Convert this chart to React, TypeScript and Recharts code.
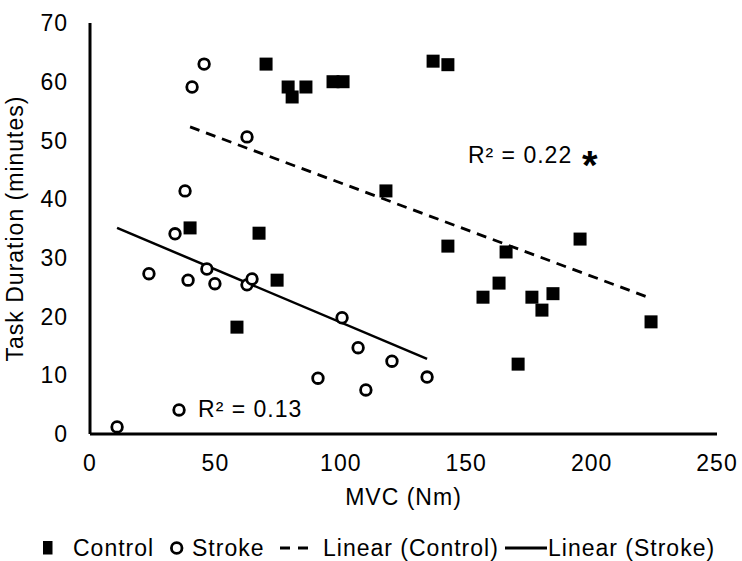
import { ScatterChart, Scatter, XAxis, YAxis, ReferenceDot } from "recharts";

// values
const controlMvc = [70.2, 79.0, 80.6, 86.1, 96.9, 100.9, 39.9, 67.4, 74.6, 58.6, 136.8, 142.7, 118.0, 142.7, 165.9, 195.4, 163.1, 156.7, 176.2, 184.6, 180.2, 170.7, 223.7];
const controlDuration = [63.0, 59.1, 57.4, 59.1, 60.0, 60.0, 35.1, 34.2, 26.2, 18.2, 63.5, 62.9, 41.4, 32.0, 31.0, 33.2, 25.7, 23.3, 23.3, 23.9, 21.1, 11.9, 19.1];

const strokeMvc = [45.5, 40.7, 62.6, 37.9, 33.9, 23.5, 39.1, 46.6, 49.8, 62.6, 64.6, 100.5, 106.9, 90.9, 110.0, 35.5, 10.8, 120.4, 134.4];
const strokeDuration = [63.0, 59.1, 50.6, 41.4, 34.1, 27.3, 26.2, 28.1, 25.6, 25.4, 26.4, 19.8, 14.7, 9.5, 7.5, 4.1, 1.2, 12.4, 9.7];

// trend line end points
const controlFitMvc = [39.9, 223.7];
const controlFitDuration = [52.3, 23.1];
const strokeFitMvc = [10.8, 134.4];
const strokeFitDuration = [35.1, 12.8];

const xTicks = [0, 50, 100, 150, 200, 250];
const yTicks = [0, 10, 20, 30, 40, 50, 60, 70];

const controlR2 = { x: 150.7, y: 46.2, text: "R² = 0.22" };
const strokeR2 = { x: 43.1, y: 2.9, text: "R² = 0.13" };

const zip = (xs: number[], ys: number[]) => xs.map((x, i) => ({ x, y: ys[i] }));

const controlData = zip(controlMvc, controlDuration);
const strokeData = zip(strokeMvc, strokeDuration);
const controlFit = zip(controlFitMvc, controlFitDuration);
const strokeFit = zip(strokeFitMvc, strokeFitDuration);

const FONT = "'Liberation Sans', Arial, sans-serif";
const tickStyle = { fill: "#000", fontSize: 23, letterSpacing: 1 };

const Square = ({ cx, cy }: any) => (
  <rect x={cx - 6.5} y={cy - 6.5} width={13} height={13} fill="#000" />
);

const Ring = ({ cx, cy }: any) => (
  <circle cx={cx} cy={cy} r={5.3} fill="#fff" stroke="#000" strokeWidth={2.8} />
);

const NoDot = () => <g />;

const Legend = () => (
  <svg
    width={742}
    height={53}
    style={{ position: "absolute", left: 0, top: 508, overflow: "visible" }}
    fontFamily={FONT}
    fontSize={23}
    letterSpacing={1}
  >
    <rect x={43} y={33} width={9.5} height={13.5} fill="#000" />
    <text x={73} y={48}>Control</text>
    <circle cx={176.7} cy={40} r={5.3} fill="#fff" stroke="#000" strokeWidth={2.8} />
    <text x={192} y={48}>Stroke</text>
    <line x1={280} x2={290} y1={40} y2={40} stroke="#000" strokeWidth={3} />
    <line x1={298} x2={308} y1={40} y2={40} stroke="#000" strokeWidth={3} />
    <text x={323} y={48}>Linear (Control)</text>
    <line x1={505} x2={547} y1={40} y2={40} stroke="#000" strokeWidth={3} />
    <text x={548} y={48}>Linear (Stroke)</text>
  </svg>
);

export default function App() {
  return (
    <div
      style={{
        position: "absolute",
        left: 0,
        top: 0,
        width: 742,
        height: 561,
        background: "#fff",
        fontFamily: FONT,
      }}
    >
      <ScatterChart
        width={742}
        height={561}
        margin={{ top: 23, right: 25, bottom: 0, left: 0 }}
      >
        <XAxis
          type="number"
          dataKey="x"
          domain={[0, 250]}
          ticks={xTicks}
          height={127}
          axisLine={{ stroke: "#000", strokeWidth: 3 }}
          tickLine={false}
          tickSize={0}
          tickMargin={21}
          tick={tickStyle}
          label={{ value: "MVC (Nm)", position: "insideTop", offset: 55, fill: "#000", fontSize: 23, letterSpacing: 1 }}
        />
        <YAxis
          type="number"
          dataKey="y"
          domain={[0, 70]}
          ticks={yTicks}
          width={90}
          axisLine={{ stroke: "#000", strokeWidth: 3 }}
          tickLine={false}
          tickSize={0}
          tickMargin={22}
          tick={tickStyle}
          label={{
            value: "Task Duration (minutes)",
            position: "insideLeft",
            offset: 15,
            angle: -90,
            fill: "#000",
            fontSize: 23,
            letterSpacing: 1,
            style: { textAnchor: "middle" },
          }}
        />
        <Scatter
          name="Linear (Control)"
          data={controlFit}
          shape={NoDot}
          line={{ stroke: "#000", strokeWidth: 2.8, strokeDasharray: "10 7" }}
          isAnimationActive={false}
        />
        <Scatter
          name="Linear (Stroke)"
          data={strokeFit}
          shape={NoDot}
          line={{ stroke: "#000", strokeWidth: 2.5 }}
          isAnimationActive={false}
        />
        <Scatter name="Control" data={controlData} shape={Square} isAnimationActive={false} />
        <Scatter name="Stroke" data={strokeData} shape={Ring} isAnimationActive={false} />
        <ReferenceDot
          x={controlR2.x}
          y={controlR2.y}
          r={0}
          shape={({ cx, cy }: any) => (
            <g>
              <text x={cx} y={cy} fontSize={23} letterSpacing={1} fill="#000">
                {controlR2.text}
              </text>
              <text x={cx + 114} y={cy + 16} fontSize={40} fontWeight="bold" fill="#000">
                *
              </text>
            </g>
          )}
        />
        <ReferenceDot
          x={strokeR2.x}
          y={strokeR2.y}
          r={0}
          shape={({ cx, cy }: any) => (
            <text x={cx} y={cy} fontSize={23} letterSpacing={1} fill="#000">
              {strokeR2.text}
            </text>
          )}
        />
      </ScatterChart>
      <Legend />
    </div>
  );
}
